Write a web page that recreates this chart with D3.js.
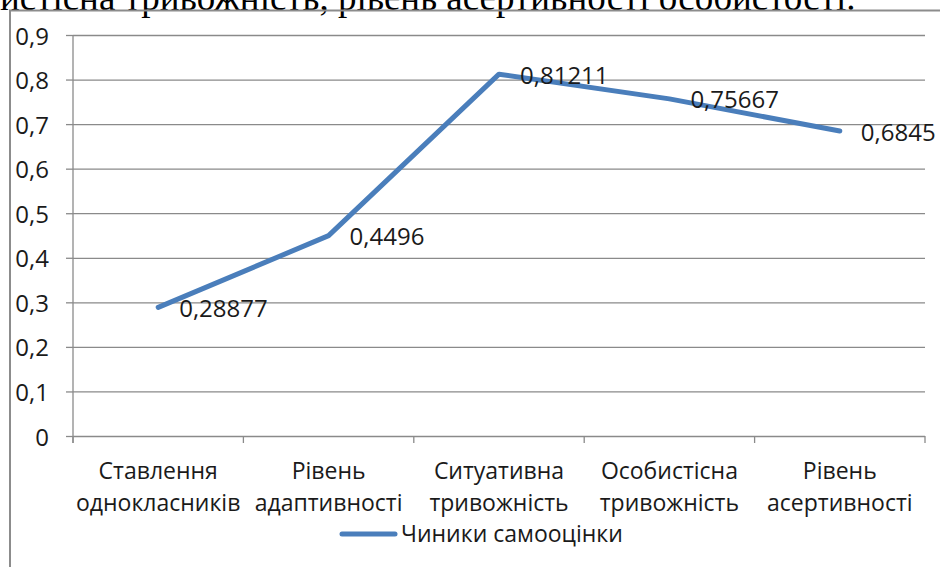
<!DOCTYPE html>
<html>
<head>
<meta charset="utf-8">
<script src="https://cdn.jsdelivr.net/npm/d3@7"></script>
<style>
  html, body { margin: 0; padding: 0; background: #fff; }
  svg { display: block; }
  .lbl { font-family: 'Open Sans', sans-serif; fill: #1a1a1a; }
</style>
</head>
<body>
<div class="chart"></div>
<script>
// data
const categories = [
  'Ставлення\nоднокласників',
  'Рівень\nадаптивності',
  'Ситуативна\nтривожність',
  'Особистісна\nтривожність',
  'Рівень\nасертивності'
]
const values = [0.28877, 0.4496, 0.81211, 0.75667, 0.6845]
const yTicks = [0, 0.1, 0.2, 0.3, 0.4, 0.5, 0.6, 0.7, 0.8, 0.9]
const seriesName = 'Чиники самооцінки'
const titleTail = 'истісна тривожність, рівень асертивності особистості.'

const width = 940
const height = 567
const plot = { left: 73, right: 925, top: 35, bottom: 436 }
const gridColor = '#8a8a8a'
const lineColor = '#4a7ebb'

const svg = d3
  .select('.chart')
  .append('svg')
  .attr('width', width)
  .attr('height', height)

// piece of the document text above the chart (cut off at top, as in the page)
svg
  .append('text')
  .attr('x', 0)
  .attr('y', 10)
  .style('font-family', "'Liberation Serif', 'Times New Roman', serif")
  .style('font-size', '37px')
  .style('fill', '#000')
  .text(titleTail)

// chart frame
svg
  .append('path')
  .attr('d', `M10,${height} V10.5 H${width}`)
  .style('fill', 'none')
  .style('stroke', '#8c8c8c')
  .style('stroke-width', 2)

let x = d3
  .scaleBand()
  .domain(categories)
  .range([plot.left, plot.right])
  .padding(0)

let y = d3.scaleLinear().domain([0, 0.9]).range([plot.bottom, plot.top])

const fmt = (d) => String(d).replace('.', ',')

// horizontal grid
svg
  .append('g')
  .attr('class', 'y-grid')
  .attr('transform', `translate(${plot.left},0)`)
  .call(
    d3
      .axisLeft(y)
      .tickValues(yTicks)
      .tickSize(-(plot.right - plot.left))
      .tickFormat('')
  )
  .call((g) => g.select('.domain').remove())
  .selectAll('line')
  .style('stroke', gridColor)
  .style('stroke-width', 1.3)

// y axis with labels
let yAxis = svg
  .append('g')
  .attr('class', 'y-axis')
  .attr('transform', `translate(${plot.left},0)`)
  .call(d3.axisLeft(y).tickValues(yTicks).tickSize(7).tickPadding(17).tickFormat(fmt))

yAxis.select('.domain').remove()
yAxis.selectAll('line').style('stroke', gridColor).style('stroke-width', 1.3)
yAxis
  .selectAll('text')
  .attr('class', 'lbl')
  .attr('dy', null)
  .attr('y', 9)
  .style('font-size', '24px')

// vertical axis line
svg
  .append('line')
  .attr('x1', plot.left)
  .attr('x2', plot.left)
  .attr('y1', y(0.9))
  .attr('y2', y(0) + 7)
  .style('stroke', gridColor)
  .style('stroke-width', 1.3)

// category tick marks on the band edges
let edges = categories.map((c) => x(c)).concat([x.range()[1]])
svg
  .selectAll('.x-tick')
  .data(edges)
  .enter()
  .append('line')
  .attr('x1', (d) => d)
  .attr('x2', (d) => d)
  .attr('y1', y(0))
  .attr('y2', y(0) + 7)
  .style('stroke', gridColor)
  .style('stroke-width', 1.3)

// category labels, two lines each
let xLabels = svg
  .selectAll('.x-label')
  .data(categories)
  .enter()
  .append('text')
  .attr('class', 'lbl')
  .attr('text-anchor', 'middle')
  .style('font-size', '23px')

xLabels
  .selectAll('tspan')
  .data((d) => d.split('\n').map((t) => ({ t: t, c: d })))
  .enter()
  .append('tspan')
  .attr('x', (d) => x(d.c) + x.bandwidth() / 2)
  .attr('y', (d, i) => y(0) + 43 + i * 32)
  .text((d) => d.t)

// the series line
let line = d3
  .line()
  .x((d, i) => x(categories[i]) + x.bandwidth() / 2)
  .y((d) => y(d))

svg
  .append('path')
  .datum(values)
  .attr('d', line)
  .style('fill', 'none')
  .style('stroke', lineColor)
  .style('stroke-width', 5)
  .style('stroke-linejoin', 'round')
  .style('stroke-linecap', 'round')

// data labels to the right of each point
svg
  .selectAll('.d-label')
  .data(values)
  .enter()
  .append('text')
  .attr('class', 'lbl')
  .attr('x', (d, i) => x(categories[i]) + x.bandwidth() / 2 + 21)
  .attr('y', (d) => y(d) + 9.5)
  .style('font-size', '24px')
  .text(fmt)

// legend
svg
  .append('line')
  .attr('x1', 342)
  .attr('x2', 395)
  .attr('y1', 534)
  .attr('y2', 534)
  .style('stroke', lineColor)
  .style('stroke-width', 5)
  .style('stroke-linecap', 'round')

svg
  .append('text')
  .attr('class', 'lbl')
  .attr('x', 401)
  .attr('y', 542)
  .style('font-size', '23px')
  .text(seriesName)
</script>
</body>
</html>
